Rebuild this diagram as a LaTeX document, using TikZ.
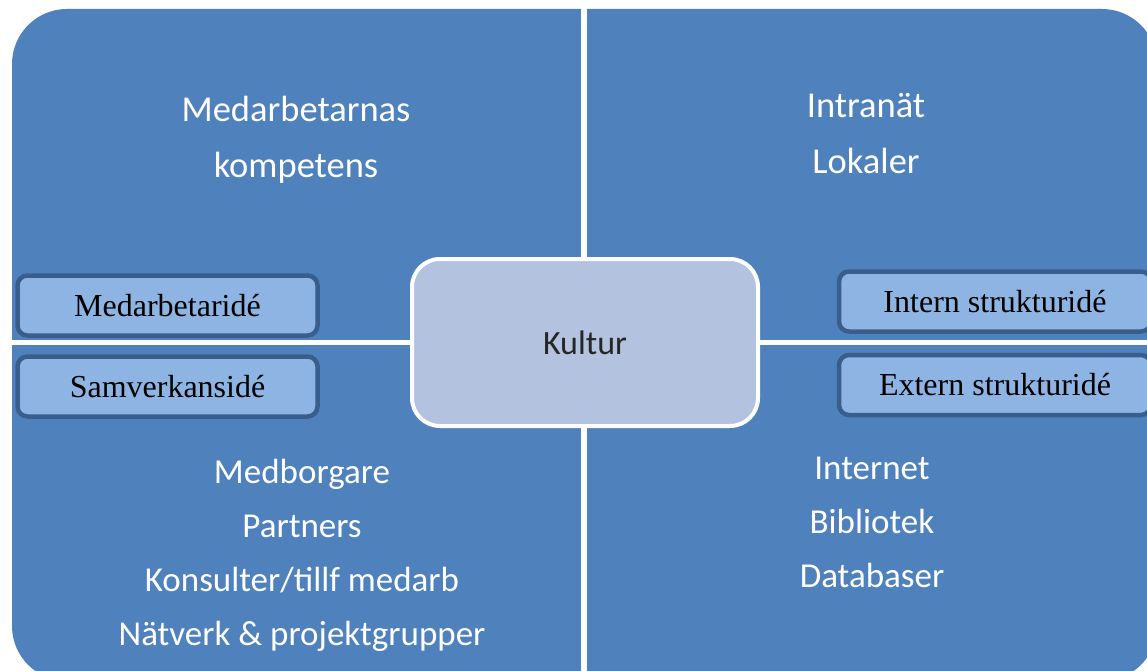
\documentclass[tikz,border=0pt]{standalone}
\usepackage{fontspec}
\setmainfont{Liberation Serif}
\newfontfamily\carlito{Carlito}
\usetikzlibrary{positioning}
\definecolor{quadblue}{HTML}{4F81BD}
\definecolor{kulturfill}{HTML}{B3C2DE}
\definecolor{ideafill}{HTML}{8EB4E3}
\definecolor{ideaedge}{HTML}{3A5E8C}
\begin{document}
\begin{tikzpicture}[x=1pt,y=-1pt,
    quad/.style={text=white,font=\carlito\fontsize{35}{54}\selectfont,align=center},
    idea/.style={draw=ideaedge,line width=4.5pt,fill=ideafill,rounded corners=10pt,
                 font=\fontsize{32}{36}\selectfont,minimum height=60pt,inner sep=0pt},
    core/.style={draw=white,line width=4pt,fill=kulturfill,rounded corners=28pt,
                 minimum width=346pt,minimum height=167pt,
                 font=\carlito\fontsize{34}{40}\selectfont,text=black!85}]
                \useasboundingbox (0,0) rectangle (1147,671);
                \clip (0,0) rectangle (1147,671);
                % matrix background
                \fill[quadblue,rounded corners=55pt] (12,9) rectangle (1157,681);
                \coordinate (vtop) at (584,0);
                \coordinate (vbot) at (584,671);
                \coordinate (hleft) at (0,342);
                \coordinate (hright) at (1147,342);
                \draw[white,line width=6pt] (vtop) -- (vbot);
                \draw[white,line width=5pt] (hleft) -- (hright);
                % quadrant texts
                \node [quad,font=\carlito\fontsize{36.5}{56}\selectfont] (tl) at (296,140) {Medarbetarnas\\kompetens};
                \node [quad,font=\carlito\fontsize{36.5}{56}\selectfont] (tr) at (866,134) {Intranät\\Lokaler};
                \node [quad] (bl) at (302,555) {Medborgare\\Partners\\Konsulter/tillf medarb\\Nätverk \& projektgrupper};
                \node [quad] (br) at (872,522) {Internet\\Bibliotek\\Databaser};
                % centre
                \node [core] (kultur) at (585,342.5) {Kultur};
                % idea boxes
                \node [idea,minimum width=300pt] (medarb) at (167.5,305.5) {Medarbetaridé};
                \node [idea,minimum width=300pt] (samverk) at (167.5,386.5) {Samverkansidé};
                \node [idea,minimum width=312pt] (intern) at (995,301.5) {Intern strukturidé};
                \node [idea,minimum width=312pt] (extern) at (995,385) {Extern strukturidé};
\end{tikzpicture}
\end{document}
